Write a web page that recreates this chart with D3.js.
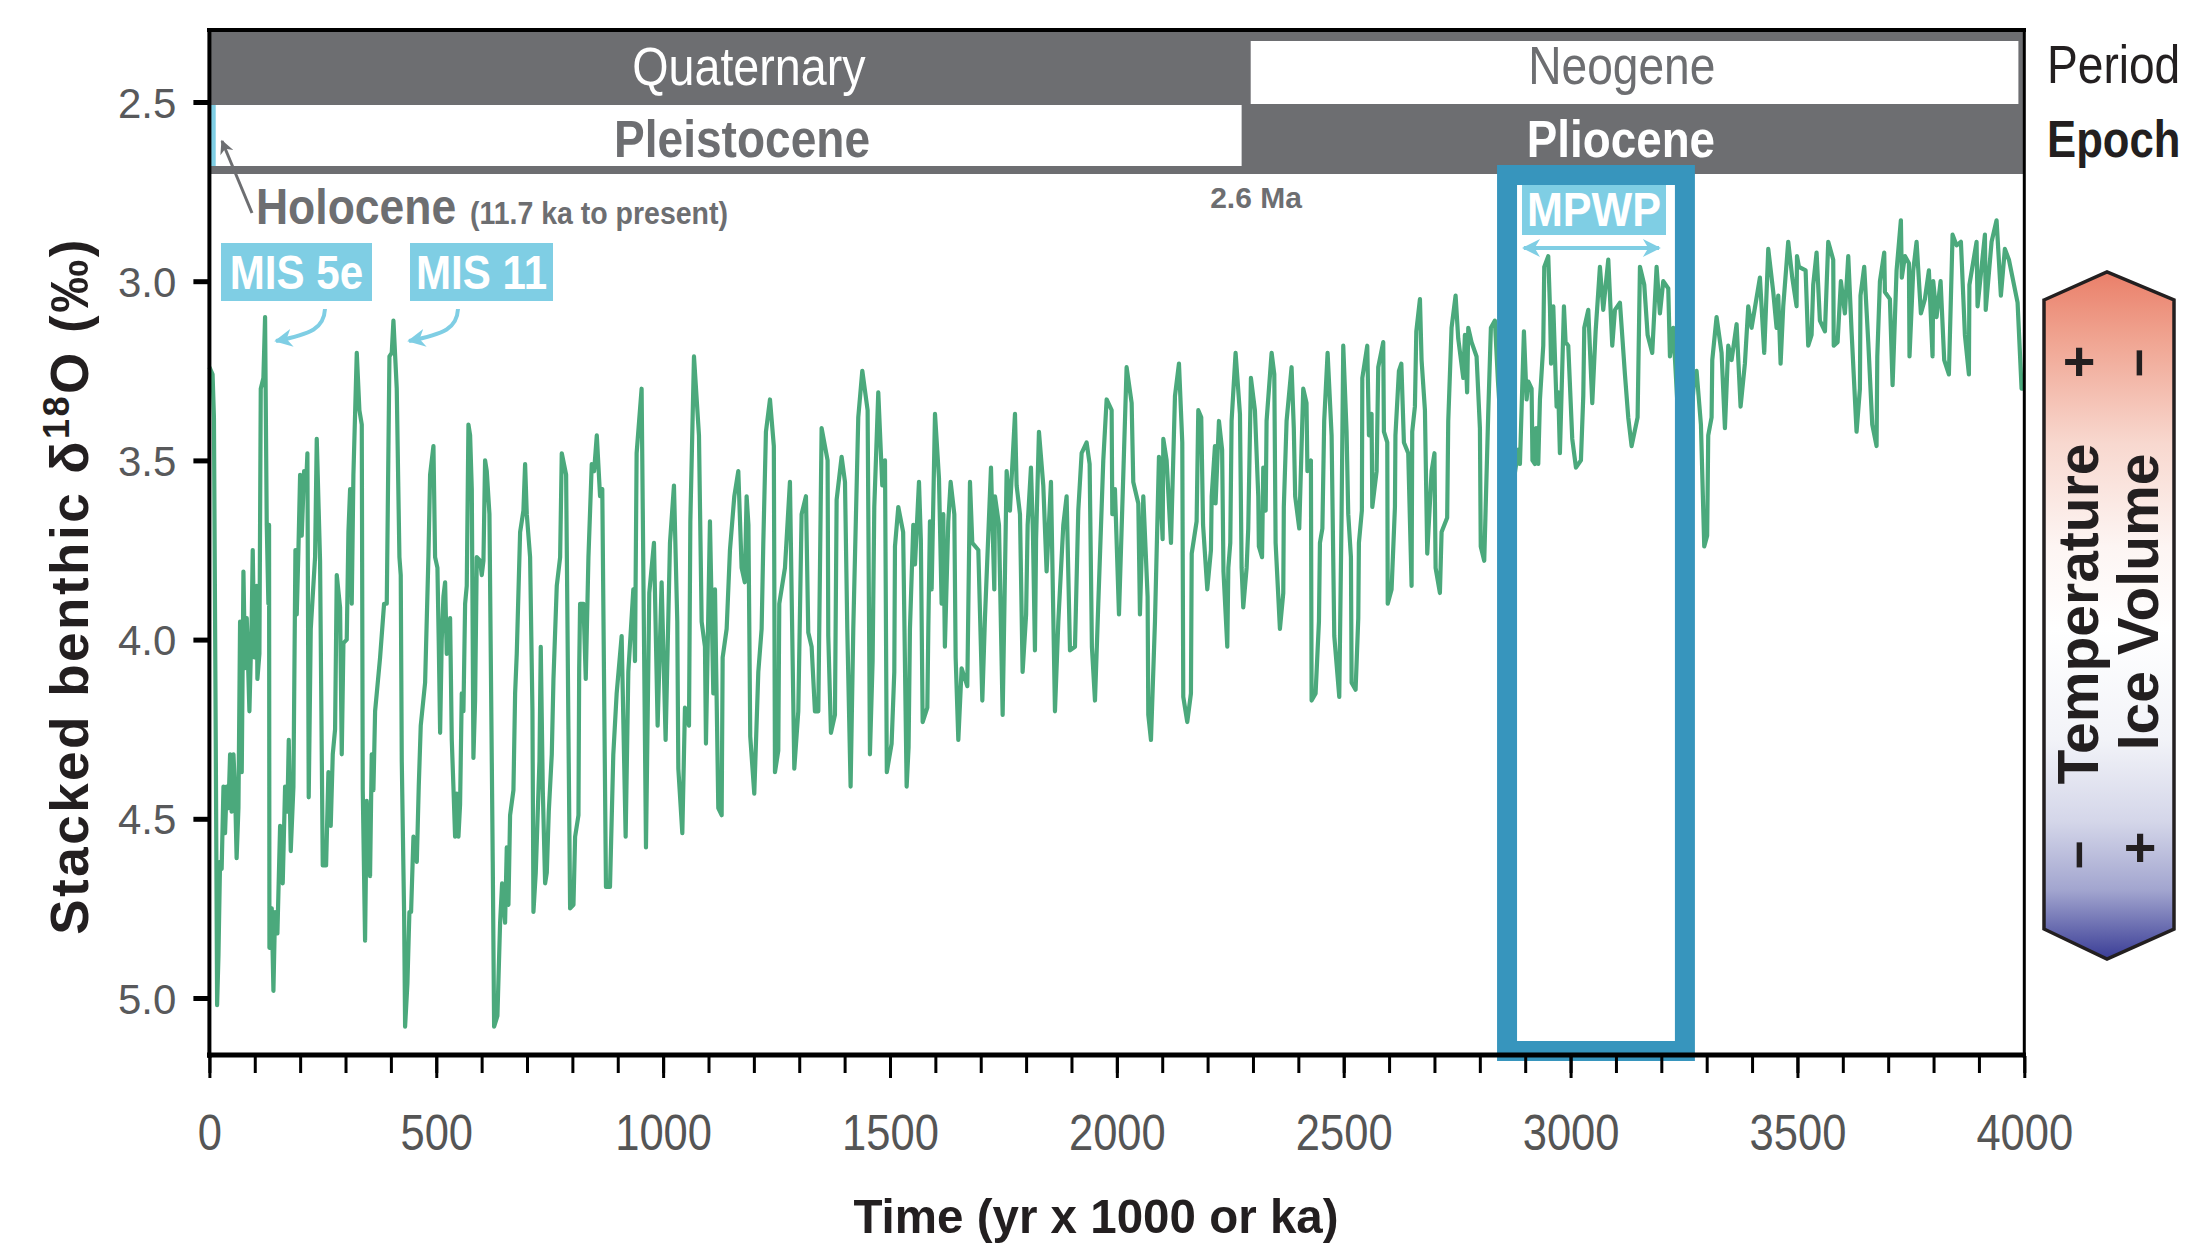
<!DOCTYPE html>
<html><head><meta charset="utf-8">
<script src="https://cdn.jsdelivr.net/npm/d3@7"></script>
<style>html,body{margin:0;padding:0;background:#fff;} svg{display:block;}</style>
</head><body><svg id="chart" width="2189" height="1252"></svg>
<script>
// ---------------- data ----------------
// LR04-style stacked benthic d18O record: [age ka, d18O permil]
const benthicStack = [
[0,3.24],[7,3.26],[10,3.38],[14,4.28],[17,5.02],[20,4.88],[23.5,4.62],[27,4.64],[31,4.41],[34.5,4.54],[38,4.41],[42,4.47],[45.6,4.32],[49,4.48],[53,4.32],[56.6,4.42],[60,4.61],[64,4.47],[67.6,3.95],[71.3,4.37],[75,3.81],[78.6,4.08],[82.3,3.94],[88.2,4.20],[93.3,3.94],[95.5,3.75],[99.2,4.05],[104.3,3.85],[105.8,4.11],[110.2,4.04],[113.2,3.30],[119,3.27],[122.7,3.10],[126.4,3.68],[130,3.90],[131.5,3.68],[132.3,4.86],[137.4,4.75],[141.1,4.98],[144.7,4.76],[149.9,4.82],[155.8,4.52],[161.6,4.68],[166.8,4.41],[171.9,4.48],[174.9,4.28],[179.3,4.59],[185.2,4.41],[189.6,3.75],[192.5,3.93],[196.2,3.75],[199.9,3.54],[203.5,3.71],[208.7,3.53],[213.1,3.57],[216,3.48],[218.9,4.44],[223.4,3.97],[232.9,3.77],[236.6,3.44],[243.9,3.78],[249.8,4.63],[257.2,4.63],[262.3,4.37],[267.4,4.52],[271.9,4.32],[277,4.25],[280.7,3.82],[288,3.91],[291.7,4.32],[295.4,4.01],[302.7,4.00],[306.4,3.70],[310.1,3.58],[313.7,3.90],[317.4,3.54],[324.8,3.20],[330.6,3.36],[335.8,3.40],[338,4.42],[343.1,4.84],[346.8,4.45],[354.1,4.66],[357.8,4.32],[361.5,4.42],[365.2,4.20],[376.2,4.05],[385,3.90],[390.9,3.90],[396.8,3.21],[401.9,3.20],[405.6,3.11],[412.9,3.30],[418.8,3.77],[421.7,3.82],[424,4.34],[429.1,4.76],[431.3,5.08],[436.4,4.96],[440.8,4.76],[444.5,4.76],[449.7,4.55],[457.1,4.62],[461.4,4.41],[465.8,4.24],[475.4,4.12],[482.7,3.77],[486.4,3.54],[493.8,3.46],[497.4,3.77],[502.6,3.80],[505.5,4.01],[508.5,4.26],[512.1,4.00],[515.8,3.88],[519.5,3.84],[523.1,4.04],[526.8,4.00],[530.5,3.94],[534.2,4.28],[537.8,4.41],[541.5,4.55],[545.2,4.43],[548.9,4.55],[552.5,4.46],[556.2,4.15],[559.9,4.20],[563.6,3.90],[567.2,3.85],[570.9,3.40],[574.6,3.43],[578.3,3.58],[581.9,4.33],[585.6,4.17],[589.3,3.77],[596.6,3.78],[600.3,3.82],[604,3.78],[607.6,3.50],[611.3,3.53],[617.2,3.65],[624.5,4.62],[627.5,5.08],[634.8,5.05],[640.7,4.79],[645.1,4.68],[651.7,4.79],[655.4,4.58],[659.1,4.74],[662.7,4.49],[670.1,4.42],[673.8,4.15],[677.4,4.04],[684.8,3.70],[692.1,3.64],[695.8,3.51],[699.5,3.65],[706.8,3.77],[712,4.20],[714.2,4.76],[719.3,4.65],[727.4,4.34],[730.3,4.02],[734.8,4.42],[739.9,4.68],[743.6,4.65],[748,4.48],[754.6,4.32],[758.3,4.11],[765.6,3.85],[773,3.77],[776.6,3.48],[786.2,3.54],[791.3,4.25],[795,4.75],[802.4,4.74],[806,4.55],[813.4,4.49],[815,4.08],[817,3.90],[824.4,3.90],[829.5,4.11],[835.4,3.77],[842.7,3.51],[847.9,3.53],[853.8,3.43],
[861,3.60],[865.9,3.58],[874,4.69],[882.9,4.69],[890.2,4.32],[897.6,4.15],[908.6,3.99],[917.4,4.55],[923.3,4.09],[934.3,3.86],[938,4.06],[941.6,3.48],[952.6,3.30],[962.2,4.58],[969.5,3.87],[979.8,3.73],[987.9,4.24],[996.7,3.84],[1005.5,4.28],[1015.1,3.73],[1023.9,3.57],[1031.2,3.95],[1033.5,4.36],[1042.3,4.54],[1048.1,4.19],[1057,4.24],[1060,3.67],[1068,3.21],[1079,3.43],[1084.9,3.95],[1092.2,4.02],[1094.4,4.29],[1103.2,3.67],[1110.6,4.15],[1114.3,3.86],[1121.6,4.47],[1129,4.49],[1131.2,4.05],[1140,3.97],[1147.3,3.75],[1156.9,3.60],[1165.7,3.53],[1173,3.80],[1180,3.84],[1184,3.60],[1188,3.68],[1192,4.27],[1200.9,4.43],[1209.8,4.09],[1217.1,3.97],[1220.8,3.73],[1226.6,3.42],[1235.5,3.33],[1244,3.46],[1246.5,4.37],[1253.8,4.31],[1256,3.90],[1268.5,3.80],[1279.5,3.56],[1289.1,4.36],[1297.9,4.20],[1305.2,3.65],[1314.8,3.60],[1319.9,3.98],[1327.3,4.02],[1334.6,4.20],[1342,4.20],[1349.3,3.41],[1362.5,3.50],[1364,3.99],[1369.9,4.26],[1378.7,4.21],[1382.4,3.61],[1393.4,3.49],[1400.8,3.56],[1405.9,3.97],[1413.2,4.41],[1419.1,3.97],[1430.1,3.38],[1439,3.25],[1450.7,3.36],[1455.8,4.32],[1461.7,4.06],[1465.4,3.63],[1474.2,3.31],[1483,3.57],[1489,3.50],[1493,4.37],[1503.6,4.29],[1509.5,4.09],[1511,3.74],[1518.3,3.63],
[1529,3.70],[1536.7,4.41],[1541,4.30],[1544,3.97],[1551.4,3.68],[1555.1,3.79],[1563.9,3.56],[1568,3.72],[1572,4.23],[1582.3,4.19],[1584.5,3.97],[1588.1,3.67],[1591.8,3.86],[1599.2,3.37],[1608,3.55],[1613.8,3.90],[1617.5,3.65],[1621,4.02],[1628.5,3.67],[1633.7,3.56],[1641.8,3.65],[1644.7,4.05],[1650.6,4.28],[1657.9,4.08],[1670.4,4.13],[1676.3,3.56],[1681.4,3.73],[1694.7,3.75],[1703.5,4.17],[1709.3,3.94],[1722.6,3.52],[1729.9,3.86],[1731.4,3.60],[1740.2,3.68],[1748.3,4.21],[1757.1,3.53],[1764.4,3.64],[1775.5,3.37],[1779.1,3.57],[1786.5,3.65],[1792.3,4.09],[1800,3.93],[1803.4,3.68],[1810.7,3.52],[1815,3.70],[1819.5,4.03],[1822,3.72],[1828.3,3.42],[1837.9,3.57],[1845.2,3.81],[1854.8,3.56],[1863.6,4.20],[1871,3.95],[1882,3.68],[1889.3,3.60],[1896.7,4.03],[1907.7,4.02],[1915,3.64],[1922.4,3.48],[1933.4,3.45],[1940,3.51],[1945,4.02],[1951.8,4.17],[1959.1,3.90],[1970.1,3.50],[1977.5,3.33],[1988.5,3.36],[1990,3.65],[1995.8,3.58],[2004.7,3.93],[2014.2,3.54],[2021.5,3.24],[2032.6,3.34],[2036.2,3.56],[2047.3,3.62],[2050.9,3.93],[2058.3,3.60],[2067.8,3.88],[2069.3,4.21],[2075.2,4.28],[2084,3.95],[2092.8,3.49],[2100.9,3.72],[2102.4,3.44],[2109.7,3.50],[2119.3,3.73],[2128.1,3.32],[2136.9,3.23],[2144.2,3.45],[2146.4,4.16],[2155.2,4.23],[2163.3,4.15],[2165,3.76],[2175.8,3.67],[2179.5,3.36],
[2186,3.38],[2190,3.68],[2199.3,3.86],[2207.4,3.75],[2209,3.60],[2216.2,3.46],[2217.6,3.62],[2225,3.39],[2232,3.47],[2235,3.81],[2243.4,4.02],[2245.7,3.80],[2250,3.73],[2252.9,3.39],[2261.7,3.20],[2271.3,3.37],[2275,3.80],[2278.6,3.91],[2286,3.80],[2289.6,3.69],[2295.5,3.27],[2304.3,3.36],[2311.7,3.60],[2313,3.74],[2320,3.77],[2322.7,3.52],[2328,3.64],[2330,3.39],[2341.1,3.20],[2347,3.26],[2349.9,3.73],[2359.4,3.97],[2366.8,3.87],[2368,3.63],[2374.1,3.39],[2385.1,3.24],[2390,3.41],[2393,3.60],[2402,3.69],[2410.8,3.30],[2418,3.34],[2420,3.53],[2427.7,3.50],[2429.2,4.17],[2438,4.15],[2445.4,3.95],[2447.6,3.73],[2453,3.69],[2457,3.39],[2464.5,3.20],[2473.3,3.43],[2479.2,3.99],[2490.2,4.16],[2495.3,3.65],[2499,3.18],[2506.3,3.42],[2510,3.65],[2515.9,3.77],[2517.4,4.12],[2526.2,4.14],[2532.1,3.94],[2533.5,3.73],[2540,3.64],[2541,3.27],[2551.9,3.18],[2555.6,3.43],[2561.4,3.37],[2563,3.63],[2572.5,3.53],[2576.1,3.24],[2587.1,3.17],[2588.6,3.42],[2596,3.45],[2597,3.90],[2605.5,3.86],[2612.9,3.63],[2614,3.43],[2621.7,3.25],[2627,3.23],[2632.7,3.45],[2642.2,3.48],[2649.6,3.85],[2651,3.42],[2656.9,3.35],[2660,3.14],[2668,3.05],[2671.6,3.22],[2679,3.36],[2684.1,3.76],[2693.7,3.53],[2700,3.48],[2702.5,3.80],[2712,3.87],[2715.7,3.70],[2728,3.66],[2730.4,3.39],[2737.7,3.13],[2746.6,3.04],[2752.4,3.16],[2763.5,3.27],[2767.1,3.15],[2772,3.31],[2774.5,3.13],[2781.8,3.17],[2792.8,3.21],[2800.2,3.41],[2802,3.74],[2809.7,3.78],[2812.7,3.64],[2818.5,3.37],[2824.4,3.13],[2833.2,3.11],
[2840,3.28],[2852,3.52],[2862,3.30],[2872,3.58],
[2884.7,3.47],[2888.4,3.51],[2897.2,3.14],[2903.1,3.33],[2906.9,3.28],[2914.1,3.30],[2916,3.50],[2921.5,3.51],[2924,3.41],[2928.8,3.51],[2932.5,3.33],[2939.8,3.18],[2942,2.96],[2950.8,2.93],[2954.5,3.07],[2957,3.23],[2961.9,3.07],[2969.2,3.35],[2972.9,3.31],[2976.5,3.48],[2985.4,3.07],[2989,3.17],[2994.9,3.18],[3003.7,3.44],[3011.8,3.52],[3022.8,3.50],[3028,3.32],[3030.2,3.13],[3039,3.08],[3047.8,3.34],[3055.2,3.14],[3064.7,2.96],[3072,3.08],[3083.1,2.94],[3091.9,3.18],[3097.8,3.08],[3108.8,3.06],[3119.8,3.26],[3127.1,3.38],[3134.5,3.46],[3147.7,3.38],[3152.9,2.96],[3162.4,3.01],[3169.8,3.15],[3180,3.20],[3189.6,2.96],[3196.9,3.09],[3204.3,3.00],[3215.3,3.02],[3219,3.21],[3226.3,3.13],
[3238,3.40],[3250,3.20],[3262,3.45],[3272,3.28],
[3277.7,3.25],[3287.3,3.40],[3294.6,3.74],[3301,3.71],[3303.4,3.43],[3310.8,3.38],[3312.3,3.22],[3321.8,3.10],[3332.8,3.20],[3340.2,3.41],[3347.5,3.18],[3354.9,3.22],[3365.9,3.12],[3374.7,3.35],[3384.2,3.23],[3391.6,3.07],[3398.9,3.13],[3417.3,2.99],[3426.8,3.20],[3435.7,2.91],[3446.7,3.03],[3454,3.13],[3457.7,3.04],[3462.9,3.23],[3468.7,3.07],[3479.7,2.89],
[3488.6,2.99],[3498.1,3.07],[3499,2.93],[3503.3,2.96],[3518,2.97],[3523.8,3.18],[3531.2,3.15],[3534.8,3.01],[3542.2,2.92],[3549.5,3.11],[3560.6,3.14],[3567.9,2.89],[3578.9,2.94],[3580,3.18],[3588.5,3.17],[3595.8,3.00],[3604.6,3.09],[3612,2.93],[3619.3,3.14],[3630.3,3.42],[3637.7,3.30],[3639,3.04],[3647.2,2.96],[3656.1,3.17],[3664.9,3.40],[3674.4,3.46],[3676,3.21],[3681.8,3.00],[3691.3,2.92],[3692.8,3.03],[3703.8,3.05],[3709.7,3.29],[3718.5,2.97],[3728,2.83],[3730,2.99],[3736.9,2.93],[3745.7,2.95],[3747,3.21],[3755.2,2.97],[3762.6,2.89],[3772.1,3.09],[3780.9,3.05],[3789.7,2.97],[3797.8,3.21],[3799.3,3.00],[3806.6,3.10],[3815.5,3.00],[3823.5,3.22],[3833.8,3.26],[3841.9,2.87],[3850.7,2.90],[3860.3,2.89],[3869.1,3.15],[3877.9,3.26],[3879,3.01],[3894.8,2.89],[3897,3.07],[3913.2,2.87],[3915,3.08],[3927.9,2.89],[3938.9,2.83],[3948.4,3.04],[3957.2,2.91],[3966.1,2.94],[3985.2,3.06],[3994,3.30],[4000,3.30]
];

const xMajorTicks = [0,500,1000,1500,2000,2500,3000,3500,4000];
const xMinorTicks = d3.range(0, 4001, 100);
const yTicks = [2.5,3.0,3.5,4.0,4.5,5.0];
const yTickLabels = ["2.5","3.0","3.5","4.0","4.5","5.0"];

const periodNames = ["Quaternary","Neogene"];
const periodLabelKa = [1189, 3113];
const neogeneSpanKa = [2295, 3987];
const epochNames = ["Holocene","Pleistocene","Pliocene"];
const epochStartKa = [0, 11.7, 2275];
const epochLabelKa = [null, 1174, 3111];
const mpwpBoxKa = [2860, 3252];
const mpwpArrowKa = [2897, 3195];

// ---------------- drawing ----------------
const FONT = '"Liberation Sans", Arial, Helvetica, sans-serif';
const GREY = "#6d6e71", LBLUE = "#7fcee4", DBLUE = "#3795bd", INK = "#231f20";
const svg = d3.select("#chart");
const x = d3.scaleLinear().domain([0, 4000]).range([209.4, 2024.3]);
const y = d3.scaleLinear().domain([2.5, 5.0]).range([102, 998]);

function label(parent, px, py, s, o) {
  const g = parent.append("g").attr("transform",
    `translate(${px},${py})${o.rot ? ` rotate(${o.rot})` : ""} scale(${o.sx || 1},1)`);
  return g.append("text").attr("text-anchor", o.anchor || "start")
    .attr("font-family", FONT).attr("font-size", o.size)
    .attr("font-weight", o.weight || "normal").attr("fill", o.fill || INK).text(s);
}

const defs = svg.append("defs");
const grad = defs.append("linearGradient").attr("id", "tempGrad")
  .attr("x1", 0).attr("y1", 0).attr("x2", 0).attr("y2", 1);
[[0,"#ea7f69"],[0.1,"#f0a592"],[0.25,"#f8d8cf"],[0.4,"#fdf5f3"],[0.52,"#ffffff"],[0.68,"#f2f3f8"],[0.8,"#d4d6e9"],[0.9,"#a2a5cf"],[1,"#3a3d96"]]
  .forEach(s => grad.append("stop").attr("offset", s[0]).attr("stop-color", s[1]));
function marker(id, color, w, h) {
  defs.append("marker").attr("id", id).attr("viewBox", "0 0 10 10").attr("refX", 9).attr("refY", 5)
    .attr("markerUnits", "userSpaceOnUse").attr("markerWidth", w).attr("markerHeight", h)
    .attr("orient", "auto-start-reverse")
    .append("path").attr("d", "M0,0 L10,5 L0,10 L3,5 Z").attr("fill", color);
}
marker("arrBlue", LBLUE, 22, 18);
marker("arrGrey", GREY, 16, 14);

// header bands
svg.append("rect").attr("x", x(0)).attr("y", 31).attr("width", x(4000) - x(0)).attr("height", 143).attr("fill", GREY);
svg.append("rect").attr("x", x(neogeneSpanKa[0])).attr("y", 41)
  .attr("width", x(neogeneSpanKa[1]) - x(neogeneSpanKa[0])).attr("height", 63).attr("fill", "#fff");
svg.append("rect").attr("x", x(epochStartKa[1])).attr("y", 105)
  .attr("width", x(epochStartKa[2]) - x(epochStartKa[1])).attr("height", 61).attr("fill", "#fff");
svg.append("rect").attr("x", x(epochStartKa[0]) + 1).attr("y", 105)
  .attr("width", x(epochStartKa[1]) - x(epochStartKa[0])).attr("height", 61).attr("fill", LBLUE);

label(svg, x(periodLabelKa[0]), 85, periodNames[0], {size: 53, anchor: "middle", fill: "#fff", sx: 0.88});
label(svg, x(periodLabelKa[1]), 84, periodNames[1], {size: 53, anchor: "middle", fill: GREY, sx: 0.87});
label(svg, x(epochLabelKa[1]), 157, epochNames[1], {size: 52, weight: "bold", anchor: "middle", fill: GREY, sx: 0.886});
label(svg, x(epochLabelKa[2]), 157, epochNames[2], {size: 52, weight: "bold", anchor: "middle", fill: "#fff", sx: 0.88});
label(svg, 2047, 83, "Period", {size: 53, sx: 0.87});
label(svg, 2047, 157, "Epoch", {size: 52, weight: "bold", sx: 0.84});
label(svg, 1256, 208, "2.6 Ma", {size: 30, weight: "bold", anchor: "middle", fill: GREY});

// Holocene annotation
svg.append("line").attr("x1", 252).attr("y1", 213).attr("x2", 222).attr("y2", 141)
  .attr("stroke", GREY).attr("stroke-width", 3).attr("marker-end", "url(#arrGrey)");
label(svg, 256, 224, epochNames[0], {size: 50, weight: "bold", fill: GREY, sx: 0.89});
label(svg, 470, 224, "(11.7 ka to present)", {size: 32, weight: "bold", fill: GREY, sx: 0.89});

// data line
svg.append("path").datum(benthicStack)
  .attr("d", d3.line().x(d => x(d[0])).y(d => y(d[1])))
  .attr("fill", "none").attr("stroke", "#4ba97c").attr("stroke-width", 4.2)
  .attr("stroke-linejoin", "round");

// MIS labels
[["MIS 5e", 221, 151, "M325,309 C324,328 312,334 276,341"],
 ["MIS 11", 410, 143, "M458,309 C457,328 445,334 409,341"]].forEach(m => {
  svg.append("rect").attr("x", m[1]).attr("y", 243).attr("width", m[2]).attr("height", 58).attr("fill", LBLUE);
  label(svg, m[1] + m[2] / 2, 289, m[0], {size: 49, weight: "bold", anchor: "middle", fill: "#fff", sx: 0.86});
  svg.append("path").attr("d", m[3]).attr("fill", "none").attr("stroke", LBLUE)
    .attr("stroke-width", 4).attr("marker-end", "url(#arrBlue)");
});

// MPWP box
svg.append("rect").attr("x", x(mpwpBoxKa[0])).attr("y", 175)
  .attr("width", x(mpwpBoxKa[1]) - x(mpwpBoxKa[0])).attr("height", 876)
  .attr("fill", "none").attr("stroke", DBLUE).attr("stroke-width", 20);
svg.append("rect").attr("x", 1522).attr("y", 185).attr("width", 144).attr("height", 50).attr("fill", LBLUE);
label(svg, 1594, 226, "MPWP", {size: 49, weight: "bold", anchor: "middle", fill: "#fff", sx: 0.88});
svg.append("line").attr("x1", x(mpwpArrowKa[0])).attr("x2", x(mpwpArrowKa[1])).attr("y1", 248).attr("y2", 248)
  .attr("stroke", LBLUE).attr("stroke-width", 4)
  .attr("marker-start", "url(#arrBlue)").attr("marker-end", "url(#arrBlue)");

// axes
const AXIS_Y = 1056;
const minor = svg.append("g").attr("transform", `translate(0,${AXIS_Y})`)
  .call(d3.axisBottom(x).tickValues(xMinorTicks).tickSize(17).tickFormat(""));
const major = svg.append("g").attr("transform", `translate(0,${AXIS_Y})`)
  .call(d3.axisBottom(x).tickValues(xMajorTicks).tickSize(22).tickFormat(d3.format("d")));
[minor, major].forEach(g => {
  g.select(".domain").remove();
  g.selectAll(".tick line").attr("stroke", "#000").attr("stroke-width", 3);
});
major.selectAll(".tick text").attr("font-family", FONT).attr("font-size", 50).attr("fill", "#555")
  .attr("y", 94).attr("dy", 0).attr("transform", "scale(0.87,1)");

const yAxis = svg.append("g").attr("transform", `translate(${x(0)},0)`)
  .call(d3.axisLeft(y).tickValues(yTicks).tickSize(16).tickPadding(17).tickFormat((d, i) => yTickLabels[i]));
yAxis.select(".domain").remove();
yAxis.selectAll(".tick line").attr("stroke", "#000").attr("stroke-width", 5);
yAxis.selectAll(".tick text").attr("font-family", FONT).attr("font-size", 42).attr("fill", "#58595b").attr("dy", "0.36em");

// frame
svg.append("line").attr("x1", 207).attr("x2", 2026).attr("y1", 30).attr("y2", 30).attr("stroke", "#000").attr("stroke-width", 4);
svg.append("line").attr("x1", x(0)).attr("x2", x(0)).attr("y1", 28).attr("y2", 1058).attr("stroke", "#000").attr("stroke-width", 4);
svg.append("line").attr("x1", x(4000)).attr("x2", x(4000)).attr("y1", 28).attr("y2", 1058).attr("stroke", "#000").attr("stroke-width", 3);
svg.append("line").attr("x1", 207).attr("x2", 2026).attr("y1", 1055).attr("y2", 1055).attr("stroke", "#000").attr("stroke-width", 5);

// axis titles
const yt = svg.append("g").attr("transform", "translate(88,586) rotate(-90)")
  .append("text").attr("text-anchor", "middle").attr("font-family", FONT)
  .attr("font-size", 53).attr("font-weight", "bold").attr("fill", INK).attr("letter-spacing", 2.5);
yt.append("tspan").text("Stacked benthic δ");
yt.append("tspan").attr("dy", -19).attr("font-size", 36).text("18");
yt.append("tspan").attr("dy", 19).text("O (‰)");
label(svg, 1096, 1233, "Time (yr x 1000 or ka)", {size: 49, weight: "bold", anchor: "middle", sx: 0.97});

// legend
svg.append("polygon").attr("points", "2044,300 2107,272 2174,300 2174,929 2107,959 2044,929")
  .attr("fill", "url(#tempGrad)").attr("stroke", INK).attr("stroke-width", 3.5);
label(svg, 2098, 614, "Temperature", {size: 57, weight: "bold", anchor: "middle", rot: -90});
label(svg, 2158, 602, "Ice Volume", {size: 57, weight: "bold", anchor: "middle", rot: -90});
label(svg, 2079, 380, "+", {size: 56, weight: "bold", anchor: "middle"});
label(svg, 2140, 866, "+", {size: 56, weight: "bold", anchor: "middle"});
label(svg, 2156, 363, "−", {size: 50, weight: "bold", anchor: "middle", rot: -90});
label(svg, 2096, 855, "−", {size: 50, weight: "bold", anchor: "middle", rot: -90});
</script>
</body></html>
